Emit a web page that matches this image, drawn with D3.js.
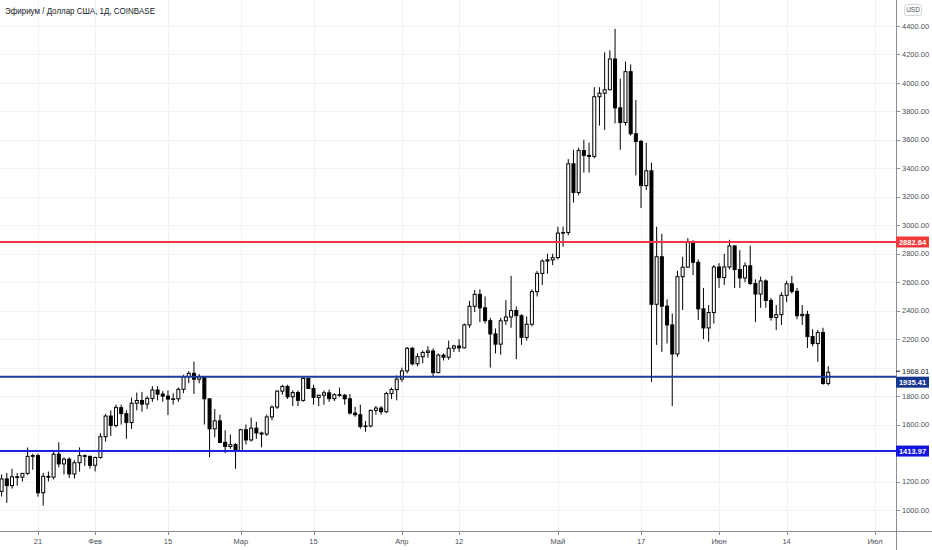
<!DOCTYPE html>
<html><head><meta charset="utf-8">
<script src="https://cdn.jsdelivr.net/npm/d3@7"></script>
<style>
body{margin:0;background:#fff;}
svg{display:block;font-family:"Liberation Sans",Arial,sans-serif;}
</style>
</head><body>
<svg id="c" width="932" height="550"></svg>
<script>
const title = "Эфириум / Доллар США, 1Д, COINBASE";
const currency = "USD";
const firstDay = "2021-01-14";

// Daily OHLC, Jan 14 .. Jun 22, 2021
const opens = [
 // Jan 14-31
 1131,1218,1171,1233,1231,1257,1377,1382,1121,1236,1231,1392,1324,1357,1253,1332,1382,1377,
 // Feb
 1314,1369,1515,1660,1594,1719,1677,1614,1750,1769,1744,1784,1843,1814,1800,1779,1781,1848,1937,1960,1919,1935,1781,1570,1626,1475,1446,1459,
 // Mar
 1417,1564,1492,1575,1541,1533,1654,1723,1835,1868,1795,1825,1770,1924,1854,1791,1806,1823,1782,1810,1806,1781,1681,1669,1586,1590,1700,1716,1690,1818,1846,
 // Apr
 1919,1977,2136,2027,2077,2107,2117,1965,2088,2073,2136,2152,2139,2300,2431,2515,2420,2330,2237,2165,2329,2356,2401,2365,2212,2305,2534,2662,2749,2757,
 // May
 2773,2945,2949,3432,3230,3525,3491,3484,3903,3928,3952,4168,3825,3722,4079,3643,3589,3279,3383,2445,2779,2432,2300,2096,2639,2706,2886,2740,2413,2279,2387,
 // Jun 1-22
 2707,2633,2707,2855,2689,2630,2715,2591,2517,2609,2472,2353,2372,2508,2589,2536,2365,2374,2218,2169,2246,1889
];
const highs = [
 1250,1260,1290,1260,1260,1439,1395,1395,1260,1270,1420,1475,1370,1370,1350,1440,1390,1381,
 1375,1540,1675,1700,1740,1740,1700,1790,1825,1830,1800,1870,1870,1835,1840,1820,1860,1950,1975,2042,1955,1938,1781,1710,1670,1560,1530,1470,
 1570,1600,1650,1620,1550,1670,1735,1840,1880,1880,1840,1840,1940,1930,1880,1810,1840,1845,1820,1860,1815,1815,1725,1740,1625,1705,1730,1730,1830,1860,1945,
 2000,2145,2145,2100,2120,2150,2135,2100,2100,2190,2160,2200,2310,2470,2545,2550,2500,2350,2275,2350,2474,2645,2430,2375,2360,2550,2680,2760,2800,2800,
 2990,2990,3465,3530,3545,3600,3580,3970,3970,4215,4230,4380,4030,4150,4130,3880,3600,3578,3440,2990,2940,2480,2380,2680,2779,2910,2895,2760,2560,2440,2720,
 2734,2800,2898,2860,2826,2740,2857,2620,2640,2620,2490,2440,2530,2610,2645,2560,2440,2400,2270,2265,2280,2010
];
const lows = [
 1095,1050,1150,1170,1200,1246,1283,1093,1030,1200,1215,1300,1250,1225,1220,1270,1310,1290,
 1271,1360,1480,1520,1580,1600,1500,1570,1700,1690,1710,1760,1770,1760,1667,1740,1760,1820,1890,1815,1890,1600,1371,1511,1470,1400,1430,1290,
 1410,1460,1480,1500,1440,1520,1630,1710,1810,1780,1730,1730,1760,1850,1740,1730,1740,1760,1765,1795,1740,1670,1655,1570,1550,1580,1670,1670,1680,1780,1770,
 1900,1960,2015,2010,2030,2070,1935,1960,2050,2055,2110,2110,2135,2280,2390,2320,2310,2000,2100,2090,2300,2280,2060,2160,2190,2290,2500,2580,2660,2720,
 2760,2850,2930,3160,3210,3370,3370,3470,3700,3670,3950,3716,3530,3700,3630,3350,3121,3248,1900,2160,2110,2170,1730,2075,2405,2700,2650,2335,2200,2182,2310,
 2560,2580,2690,2559,2560,2600,2580,2320,2420,2420,2330,2264,2300,2460,2520,2340,2300,2138,2150,2040,1880,1875
];
const closes = [
 1218,1171,1233,1231,1257,1377,1382,1121,1236,1231,1392,1324,1357,1253,1332,1382,1377,1314,
 1369,1515,1660,1594,1719,1677,1614,1750,1769,1744,1784,1843,1814,1800,1779,1781,1848,1937,1960,1919,1935,1781,1570,1626,1475,1446,1459,1417,
 1564,1492,1575,1541,1533,1654,1723,1835,1868,1795,1825,1770,1924,1854,1791,1806,1823,1782,1810,1806,1781,1681,1669,1586,1590,1700,1716,1690,1818,1846,1919,
 1977,2136,2027,2077,2107,2117,1965,2088,2073,2136,2152,2139,2300,2431,2515,2420,2330,2237,2165,2329,2356,2401,2365,2212,2305,2534,2662,2749,2757,2773,
 2945,2949,3432,3230,3525,3491,3484,3903,3928,3952,4168,3825,3722,4079,3643,3589,3279,3383,2445,2779,2432,2300,2096,2639,2706,2886,2740,2413,2279,2387,2707,
 2633,2707,2855,2689,2630,2715,2591,2517,2609,2472,2353,2372,2508,2589,2536,2365,2374,2218,2169,2246,1889,1968.01
];

const priceTicks = [1000,1200,1400,1600,1800,2000,2200,2400,2600,2800,3000,3200,3400,3600,3800,4000,4200,4400];
const timeTicks = ["2021-01-21","2021-02-01","2021-02-15","2021-03-01","2021-03-15","2021-04-01","2021-04-12","2021-05-01","2021-05-17","2021-06-01","2021-06-14","2021-07-01"];
const timeLabels = ["21","Фев","15","Мар","15","Апр","12","Май","17","Июн","14","Июл"];

const levelValues = [2882.64, 1935.41, 1413.97];
const levelLineColors = ["#f23645", "#1c3f9f", "#1c22e4"];
const levelBoxColors = ["#ef3b3b", "#17378f", "#1414e0"];
const lastPrice = 1968.01;

// ---------- layout ----------
const W = 932, H = 550;
const plotRight = 896, plotBottom = 531;
const svg = d3.select("#c");

const start = new Date(firstDay + "T00:00:00Z");
const days = d3.range(closes.length).map(i => d3.utcDay.offset(start, i));

const x = d3.scaleUtc()
  .domain([new Date("2021-01-21T00:00:00Z"), new Date("2021-07-01T00:00:00Z")])
  .range([38, 875]);
const y = d3.scaleLinear().domain([852.4, 4582.6]).range([plotBottom, 0]);

svg.append("rect").attr("width", W).attr("height", H).attr("fill", "#fff");

// grid
const grid = svg.append("g");
grid.selectAll("line.h").data(priceTicks).join("line")
  .attr("x1", 0).attr("x2", plotRight)
  .attr("y1", d => Math.round(y(d)) + 0.5).attr("y2", d => Math.round(y(d)) + 0.5)
  .attr("stroke", "#f0f2f6").attr("stroke-width", 1);
grid.selectAll("line.v").data(timeTicks).join("line")
  .attr("x1", d => Math.round(x(new Date(d + "T00:00:00Z"))) + 0.5)
  .attr("x2", d => Math.round(x(new Date(d + "T00:00:00Z"))) + 0.5)
  .attr("y1", 0).attr("y2", plotBottom)
  .attr("stroke", "#f0f2f6").attr("stroke-width", 1);

// candles
svg.append("clipPath").attr("id", "pc").append("rect")
  .attr("x", 0).attr("y", 0).attr("width", plotRight).attr("height", plotBottom);
const cg = svg.append("g").attr("clip-path", "url(#pc)");
const data = days.map((d, i) => ({d, o: opens[i], h: highs[i], l: lows[i], c: closes[i]}));
const bw = 3;
cg.selectAll("line.w").data(data).join("line")
  .attr("x1", d => x(d.d)).attr("x2", d => x(d.d))
  .attr("y1", d => y(d.h)).attr("y2", d => y(d.l))
  .attr("stroke", "#000").attr("stroke-width", 1);
cg.selectAll("rect.b").data(data).join("rect")
  .attr("x", d => x(d.d) - bw / 2)
  .attr("y", d => y(Math.max(d.o, d.c)))
  .attr("width", bw)
  .attr("height", d => Math.max(0.6, Math.abs(y(d.o) - y(d.c))))
  .attr("fill", d => d.c >= d.o ? "#fff" : "#000")
  .attr("stroke", "#000").attr("stroke-width", 1);

// horizontal level lines
levelValues.forEach((v, i) => {
  svg.append("line")
    .attr("x1", 0).attr("x2", plotRight)
    .attr("y1", y(v)).attr("y2", y(v))
    .attr("stroke", levelLineColors[i]).attr("stroke-width", 2);
});

// axes lines
svg.append("line").attr("x1", plotRight + 0.5).attr("x2", plotRight + 0.5)
  .attr("y1", 0).attr("y2", H).attr("stroke", "#8a8d96").attr("stroke-width", 1);
svg.append("line").attr("x1", 0).attr("x2", W)
  .attr("y1", plotBottom + 0.5).attr("y2", plotBottom + 0.5)
  .attr("stroke", "#8a8d96").attr("stroke-width", 1);

// label boxes on the price scale (used to hide covered tick labels)
const boxH = 11, boxW = 33;
const lastY = y(lastPrice) - 1;
const boxCenters = levelValues.map((v, i) => i === 1 ? Math.max(y(v), lastY + boxH) : y(v));
const occupied = boxCenters.concat([lastY]);
const visibleTicks = priceTicks.filter(t => occupied.every(c => Math.abs(y(t) - c) > boxH * 0.75));

// price axis labels
const pa = svg.append("g");
pa.selectAll("line").data(visibleTicks).join("line")
  .attr("x1", plotRight).attr("x2", plotRight + 4)
  .attr("y1", d => Math.round(y(d)) + 0.5).attr("y2", d => Math.round(y(d)) + 0.5)
  .attr("stroke", "#8a8d96");
pa.selectAll("text").data(visibleTicks).join("text")
  .attr("x", plotRight + 6).attr("y", d => y(d))
  .attr("dy", "0.35em")
  .attr("font-size", 7.5).attr("fill", "#4c4f57")
  .text(d => d.toFixed(2));

// time axis labels
const ta = svg.append("g");
ta.selectAll("line").data(timeTicks).join("line")
  .attr("x1", d => Math.round(x(new Date(d + "T00:00:00Z"))) + 0.5)
  .attr("x2", d => Math.round(x(new Date(d + "T00:00:00Z"))) + 0.5)
  .attr("y1", plotBottom).attr("y2", plotBottom + 4)
  .attr("stroke", "#8a8d96");
ta.selectAll("text").data(timeTicks).join("text")
  .attr("x", d => x(new Date(d + "T00:00:00Z")))
  .attr("y", plotBottom + 13)
  .attr("text-anchor", "middle")
  .attr("font-size", 7.5).attr("fill", "#4c4f57")
  .text((d, i) => timeLabels[i]);

// last price label
svg.append("rect").attr("x", plotRight + 1).attr("y", lastY - boxH / 2)
  .attr("width", boxW).attr("height", boxH).attr("fill", "#fff");
svg.append("line").attr("x1", plotRight).attr("x2", plotRight + 4)
  .attr("y1", lastY).attr("y2", lastY).attr("stroke", "#131722");
svg.append("text").attr("x", plotRight + 6).attr("y", lastY).attr("dy", "0.35em")
  .attr("font-size", 7.5).attr("fill", "#131722").text(lastPrice.toFixed(2));

// level boxes
levelValues.forEach((v, i) => {
  const cy = boxCenters[i];
  svg.append("rect").attr("x", plotRight).attr("y", cy - boxH / 2)
    .attr("width", boxW).attr("height", boxH).attr("fill", levelBoxColors[i]);
  svg.append("text").attr("x", plotRight + boxW / 2).attr("y", cy).attr("dy", "0.35em")
    .attr("text-anchor", "middle").attr("font-size", 7.5).attr("font-weight", "bold")
    .attr("fill", "#fff").text(v.toFixed(2));
});

// currency box
svg.append("rect").attr("x", 904.5).attr("y", 4.5).attr("width", 17).attr("height", 11)
  .attr("rx", 2).attr("fill", "#fff").attr("stroke", "#d1d4dc");
svg.append("text").attr("x", 913).attr("y", 10).attr("dy", "0.35em")
  .attr("text-anchor", "middle").attr("font-size", 6.5).attr("fill", "#4c4f57").text(currency);

// title
svg.append("text").attr("x", 5).attr("y", 11).attr("dy", "0.35em")
  .attr("font-size", 9).attr("fill", "#131722")
  .attr("textLength", 150).attr("lengthAdjust", "spacingAndGlyphs")
  .text(title);
</script>
</body></html>
